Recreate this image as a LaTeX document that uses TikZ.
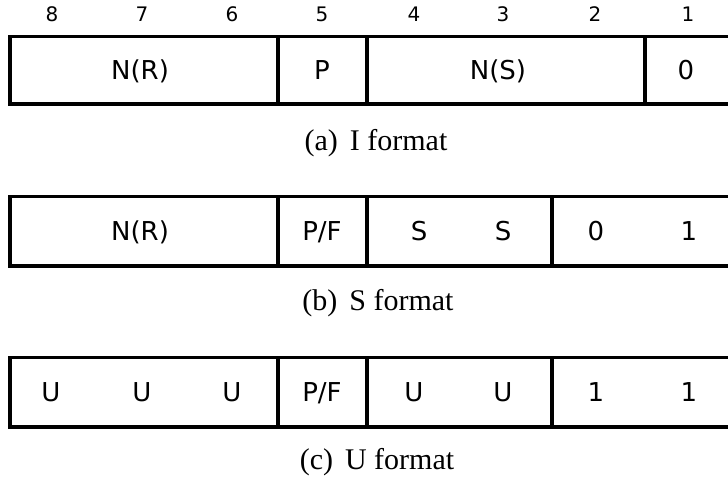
\documentclass[tikz,border=0pt]{standalone}
\usepackage{fontspec}
\setmainfont{Liberation Serif}
\newfontfamily\labelfont{DejaVu Sans}
\usepackage{tikz}
\usetikzlibrary{positioning}

\tikzset{
  frame/.style={line width=1.8pt},
  lbl/.style={font=\labelfont\fontsize{13}{15}\selectfont, inner sep=0pt, anchor=base},
  bitno/.style={font=\labelfont\fontsize{10}{12}\selectfont, inner sep=0pt, anchor=base},
  capt/.style={font=\fontsize{15}{18}\selectfont, inner sep=0pt}
}

\begin{document}
\begin{tikzpicture}[x=0.5pt, y=0.5pt]
\useasboundingbox (0,0) rectangle (728,483);
\clip (0,0) rectangle (728,483);
% bit numbers over the fields
\foreach \n/\x in {8/52,7/142,6/232,5/322,4/414,3/503,2/595,1/688}
  \node[bitno] (bit\n) at (\x,461) {\n};
% (a) I format
\draw[frame] (10,379) rectangle (745,446.5);
\foreach \x in {278,367,645} \draw[frame] (\x,379) -- (\x,446.5);
\node[lbl] (inr) at (140,403.5) {N(R)};
\node[lbl] (ip) at (322,403.5) {P};
\node[lbl] (ins) at (498,403.5) {N(S)};
\node[lbl] (izero) at (686,403.5) {0};
\node[capt] (capi) at (376,340) {(a)\hspace{0.4em}I format};
% (b) S format
\draw[frame] (10,217) rectangle (745,286.5);
\foreach \x in {278,367,552} \draw[frame] (\x,217) -- (\x,286.5);
\node[lbl] (snr) at (140,242.5) {N(R)};
\node[lbl] (spf) at (322,242.5) {P/F};
\node[lbl] (ss1) at (419,242.5) {S};
\node[lbl] (ss2) at (503,242.5) {S};
\node[lbl] (szero) at (596,242.5) {0};
\node[lbl] (sone) at (689,242.5) {1};
\node[capt] (caps) at (378,180) {(b)\hspace{0.4em}S format};
% (c) U format
\draw[frame] (10,56) rectangle (745,125.5);
\foreach \x in {278,367,552} \draw[frame] (\x,56) -- (\x,125.5);
\foreach \i/\x in {1/51,2/142,3/232,4/414,5/503}
  \node[lbl] (uu\i) at (\x,81.5) {U};
\node[lbl] (upf) at (322,81.5) {P/F};
\node[lbl] (uone) at (596,81.5) {1};
\node[lbl] (utwo) at (689,81.5) {1};
\node[capt] (capu) at (377,21) {(c)\hspace{0.4em}U format};
\end{tikzpicture}
\end{document}
